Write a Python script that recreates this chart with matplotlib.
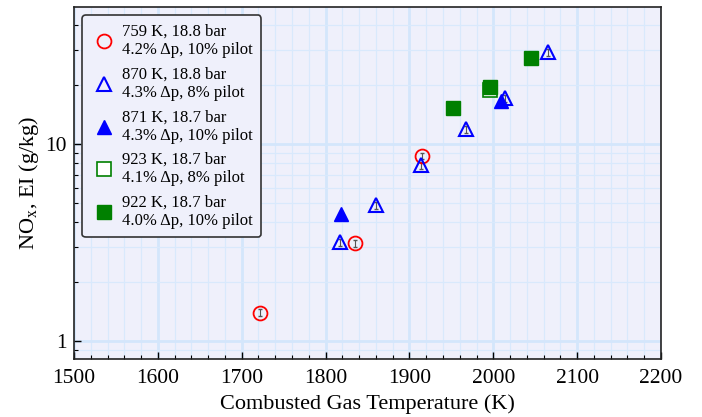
import numpy as np
import matplotlib
matplotlib.use("Agg")
import matplotlib.pyplot as plt
from matplotlib.ticker import MultipleLocator, LogLocator, NullFormatter, FixedLocator, FixedFormatter

plt.rcParams['font.family'] = ['Liberation Serif', 'DejaVu Serif']
plt.rcParams['mathtext.fontset'] = 'stix'
plt.rcParams['font.size'] = 16

# 759 K, 18.8 bar, 4.2% dp, 10% pilot
t_759 = [1722, 1835, 1915]
nox_759 = [1.39, 3.14, 8.7]
# 870 K, 18.8 bar, 4.3% dp, 8% pilot
t_870 = [1817, 1860, 1914, 1967, 2014, 2065]
nox_870 = [3.18, 4.9, 7.8, 11.9, 17.1, 29.3]
# 871 K, 18.7 bar, 4.3% dp, 10% pilot
t_871 = [1818, 2009]
nox_871 = [4.4, 16.5]
# 923 K, 18.7 bar, 4.1% dp, 8% pilot
t_923 = [1996]
nox_923 = [18.8]
# 922 K, 18.7 bar, 4.0% dp, 10% pilot
t_922 = [1952, 1996, 2045]
nox_922 = [15.2, 19.5, 27.3]

labels = ["759 K, 18.8 bar\n4.2% Δp, 10% pilot",
          "870 K, 18.8 bar\n4.3% Δp, 8% pilot",
          "871 K, 18.7 bar\n4.3% Δp, 10% pilot",
          "923 K, 18.7 bar\n4.1% Δp, 8% pilot",
          "922 K, 18.7 bar\n4.0% Δp, 10% pilot"]

fig = plt.figure(figsize=(7.02, 4.17), dpi=100)
ax = fig.add_axes([0.1054, 0.139, 0.8362, 0.844])
ax.set_facecolor('#eff0fb')

def err(v):
    return np.array(v) * 0.04

ax.errorbar(t_759, nox_759, yerr=err(nox_759), fmt='none', ecolor='#555555', elinewidth=0.8, capsize=1.5, zorder=3)
ax.plot(t_759, nox_759, 'o', ms=10, mfc='none', mec='red', mew=1.3, label=labels[0], zorder=4)
ax.errorbar(t_870, nox_870, yerr=err(nox_870), fmt='none', ecolor='#555555', elinewidth=0.8, capsize=1.5, zorder=3)
ax.plot(t_870, nox_870, '^', ms=10, mfc='none', mec='blue', mew=1.5, label=labels[1], zorder=4)
ax.plot(t_871, nox_871, '^', ms=10, mfc='blue', mec='blue', label=labels[2], zorder=4)
ax.errorbar(t_923, nox_923, yerr=err(nox_923), fmt='none', ecolor='#555555', elinewidth=0.8, capsize=1.5, zorder=3)
ax.plot(t_923, nox_923, 's', ms=10, mfc='white', mec='green', mew=1.2, label=labels[3], zorder=4)
ax.plot(t_922, nox_922, 's', ms=10, mfc='green', mec='green', label=labels[4], zorder=5)

ax.set_yscale('log')
ax.set_xlim(1500, 2200)
ax.set_ylim(0.81, 49.6)
ax.xaxis.set_major_locator(MultipleLocator(100))
ax.xaxis.set_minor_locator(MultipleLocator(20))
ax.yaxis.set_major_locator(FixedLocator([1, 10]))
ax.yaxis.set_major_formatter(FixedFormatter(['1', '10']))
ax.yaxis.set_minor_locator(LogLocator(base=10, subs=np.arange(2, 10)))
ax.yaxis.set_minor_formatter(NullFormatter())

ax.grid(which='major', color='#d4e6fb', lw=2.0, zorder=0)
ax.grid(which='minor', color='#d9e9fc', lw=0.9, zorder=0)
ax.set_axisbelow(True)

ax.tick_params(which='both', direction='in', labelsize=15.5, top=False, right=False)
ax.tick_params(which='major', length=5, width=1)
ax.tick_params(axis='x', which='major', pad=7)
ax.tick_params(axis='y', which='major', pad=5)
ax.tick_params(which='minor', length=3, width=0.8)
for s in ax.spines.values():
    s.set_color('#222222')
    s.set_linewidth(1.2)

ax.set_xlabel('Combusted Gas Temperature (K)', fontsize=16, labelpad=5)
ax.set_ylabel(r'NO$_\mathregular{x}$, EI (g/kg)', fontsize=16, labelpad=3)

leg = ax.legend(loc='upper left', fontsize=12, frameon=True, fancybox=True,
                edgecolor='#333333', facecolor='#eff0fb', framealpha=1,
                labelspacing=0.5, handlelength=1.6, handletextpad=0.3, borderpad=0.5,
                bbox_to_anchor=(0.0, 1.0), borderaxespad=0.5)
leg.get_frame().set_linewidth(1.2)

fig.savefig('out.png', dpi=100)
